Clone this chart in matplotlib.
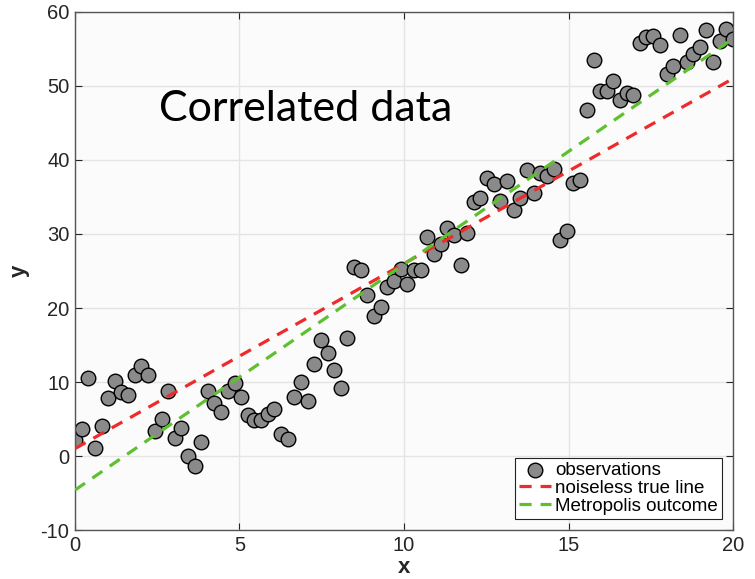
import matplotlib
matplotlib.use('Agg')
import matplotlib.pyplot as plt

# observations
x_obs = [0.00, 0.20, 0.40, 0.61, 0.81, 1.01, 1.21, 1.41, 1.62, 1.82,
         2.02, 2.22, 2.42, 2.63, 2.83, 3.03, 3.23, 3.43, 3.64, 3.84,
         4.04, 4.24, 4.44, 4.65, 4.85, 5.05, 5.25, 5.45, 5.66, 5.86,
         6.06, 6.26, 6.46, 6.67, 6.87, 7.07, 7.27, 7.47, 7.68, 7.88,
         8.08, 8.28, 8.48, 8.69, 8.89, 9.09, 9.29, 9.49, 9.70, 9.90,
         10.10, 10.30, 10.51, 10.71, 10.91, 11.11, 11.31, 11.52, 11.72, 11.92,
         12.12, 12.32, 12.53, 12.73, 12.93, 13.13, 13.33, 13.54, 13.74, 13.94,
         14.14, 14.34, 14.55, 14.75, 14.95, 15.15, 15.35, 15.56, 15.76, 15.96,
         16.16, 16.36, 16.57, 16.77, 16.97, 17.17, 17.37, 17.58, 17.78, 17.98,
         18.18, 18.38, 18.59, 18.79, 18.99, 19.19, 19.39, 19.60, 19.80, 20.00]
y_obs = [2.2, 3.6, 10.6, 1.1, 4.0, 7.9, 10.1, 8.6, 8.2, 11.0,
         12.1, 10.9, 3.4, 5.0, 8.8, 2.5, 3.8, 0.0, -1.4, 1.9,
         8.8, 7.2, 6.0, 8.8, 9.8, 8.0, 5.5, 4.8, 4.8, 5.7,
         6.3, 3.0, 2.3, 8.0, 10.0, 7.4, 12.5, 15.7, 13.9, 11.6,
         9.2, 16.0, 25.5, 25.2, 21.8, 18.9, 20.2, 22.9, 23.6, 25.3,
         23.2, 25.2, 25.2, 29.6, 27.3, 28.7, 30.8, 29.8, 25.8, 30.1,
         34.3, 34.8, 37.5, 36.8, 34.4, 37.1, 33.3, 34.9, 38.6, 35.5,
         38.3, 37.8, 38.8, 29.2, 30.4, 36.9, 37.3, 46.7, 53.5, 49.3,
         49.3, 50.7, 48.1, 49.1, 48.8, 55.8, 56.6, 56.8, 55.6, 51.6,
         52.7, 56.9, 53.2, 54.3, 55.3, 57.6, 53.3, 56.1, 57.7, 56.4]

# line end points
true_x = [0, 20]
true_y = [1.0, 51.0]
metro_x = [0, 20]
metro_y = [-4.6, 56.4]

plt.rcParams['font.family'] = ['Liberation Sans', 'DejaVu Sans']
plt.rcParams['axes.unicode_minus'] = False

fig = plt.figure(figsize=(7.55, 5.79), dpi=100)
ax = fig.add_axes([0.0993, 0.0846, 0.8716, 0.8947])
ax.set_facecolor('#fbfbfb')

ax.scatter(x_obs, y_obs, s=110, c='#8a8a8a', edgecolors='black',
           linewidths=1.0, label='observations', zorder=2)
ax.plot(true_x, true_y, color='#ee2a2a', lw=2.3, dashes=(3.8, 2.8),
        label='noiseless true line', zorder=3)
ax.plot(metro_x, metro_y, color='#5ec02e', lw=2.3, dashes=(3.8, 2.8),
        label='Metropolis outcome', zorder=3)

ax.set_xlim(0, 20)
ax.set_ylim(-10, 60)
ax.set_xticks([0, 5, 10, 15, 20])
ax.set_yticks(range(-10, 61, 10))
ax.grid(True, color='#e4e4e4', lw=1.0, zorder=0)
ax.set_axisbelow(True)
ax.tick_params(direction='in', top=True, right=True, labelsize=14.5,
               colors='#262626', length=5, width=0.8, pad=4)
for sp in ax.spines.values():
    sp.set_color('#555555')
    sp.set_linewidth(1.0)

ax.set_xlabel('x', fontsize=16, fontweight='bold', color='#262626', labelpad=2)
ax.set_ylabel('y', fontsize=16, fontweight='bold', color='#262626', labelpad=8)

ax.text(7.0, 46.9, 'Correlated data', fontsize=31, family='Lato',
        ha='center', va='center', color='black')

leg = ax.legend(loc='lower right', fontsize=13.5, handlelength=1.7,
                handletextpad=0.25, borderpad=0.2, labelspacing=0.05,
                fancybox=False, framealpha=1, edgecolor='#222222',
                borderaxespad=0.6)
leg.get_frame().set_linewidth(0.8)

plt.savefig('out.png', dpi=100)
